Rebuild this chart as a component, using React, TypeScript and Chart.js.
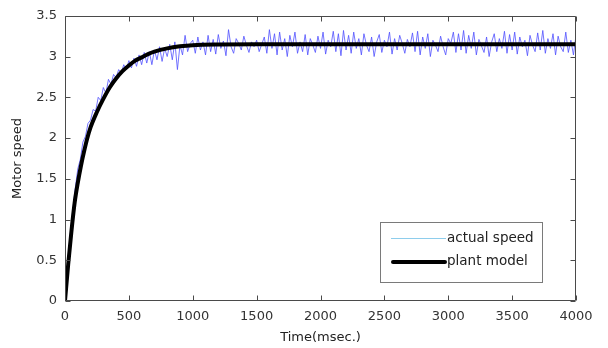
import React, { useEffect, useRef } from 'react';
import { Chart, registerables } from 'chart.js';

Chart.register(...registerables);

// sampling period of the measured signal (ms)
const SAMPLE_MS = 20;

// measured motor speed, one value every SAMPLE_MS from t = 0 to 4000 ms
const actualSpeed: number[] = [
  0.00, 0.45, 0.80, 1.10, 1.38, 1.62, 1.74, 1.95, 2.02, 2.18,
  2.22, 2.35, 2.33, 2.50, 2.46, 2.62, 2.55, 2.72, 2.66, 2.78,
  2.74, 2.84, 2.80, 2.90, 2.84, 2.95, 2.86, 2.98, 2.88, 3.02,
  2.90, 3.05, 2.92, 3.06, 2.90, 3.08, 2.96, 3.12, 2.94, 3.10,
  3.00, 3.15, 2.96, 3.18, 2.84, 3.14, 3.02, 3.26, 3.06, 3.16,
  3.20, 3.04, 3.24, 3.08, 3.18, 3.02, 3.26, 3.06, 3.21, 3.03,
  3.27, 3.10, 3.19, 3.01, 3.33, 3.12, 3.04, 3.22, 3.16, 3.08,
  3.25, 3.14, 3.05, 3.18, 3.12, 3.20, 3.06, 3.15, 3.24, 3.04,
  3.33, 3.10, 3.28, 3.02, 3.30, 3.08, 3.22, 3.00, 3.26, 3.12,
  3.30, 3.04, 3.18, 3.06, 3.27, 3.02, 3.22, 3.14, 3.05, 3.25,
  3.10, 3.30, 3.03, 3.20, 3.12, 3.31, 3.06, 3.28, 3.01, 3.32,
  3.08, 3.26, 3.04, 3.30, 3.10, 3.22, 3.02, 3.28, 3.14, 3.06,
  3.24, 3.00, 3.18, 3.27, 3.05, 3.20, 3.12, 3.30, 3.03, 3.22,
  3.08, 3.26, 3.16, 3.04, 3.21, 3.12, 3.29, 3.06, 3.31, 3.02,
  3.24, 3.10, 3.28, 3.00, 3.20, 3.14, 3.06, 3.25, 3.12, 3.02,
  3.22, 3.16, 3.30, 3.05, 3.28, 3.08, 3.32, 3.04, 3.26, 3.10,
  3.30, 3.02, 3.21, 3.13, 3.05, 3.24, 3.00, 3.18, 3.28, 3.06,
  3.22, 3.10, 3.31, 3.04, 3.27, 3.08, 3.30, 3.03, 3.24, 3.12,
  3.20, 3.01, 3.26, 3.14, 3.06, 3.29, 3.08, 3.32, 3.04, 3.22,
  3.10, 3.28, 3.02, 3.25, 3.12, 3.06, 3.30, 3.05, 3.20, 3.02,
  3.26,
];

// plant model response
const plantTime: number[] = [
  0, 25, 50, 75, 100, 125, 150, 175, 200, 250, 300, 350, 400, 450, 500,
  550, 600, 650, 700, 800, 900, 1000, 1200, 1500, 2000, 2500, 3000, 3500, 4000,
];
const plantValue: number[] = [
  0, 0.45, 0.85, 1.2, 1.45, 1.66, 1.84, 2.0, 2.13, 2.32, 2.48, 2.62, 2.73, 2.82, 2.89,
  2.95, 2.99, 3.03, 3.06, 3.1, 3.125, 3.14, 3.148, 3.15, 3.15, 3.15, 3.15, 3.15, 3.15,
];

const xTicks = { min: 0, max: 4000, step: 500 };
const yTicks = { min: 0, max: 3.5, step: 0.5 };

const legendLabels = ['actual speed', 'plant model'];
const xTitle = 'Time(msec.)';
const yTitle = 'Motor speed';

const FONT = '"DejaVu Sans", sans-serif';

const framePlugin = {
  id: 'frame',
  afterDatasetsDraw(chart: any) {
    const { ctx, chartArea, scales } = chart;
    const { left, right, top, bottom } = chartArea;
    const x = scales.x;
    const y = scales.y;
    ctx.save();
    ctx.strokeStyle = '#4a4a4a';
    ctx.lineWidth = 1;
    ctx.beginPath();
    const L = Math.round(left) + 0.5;
    const R = Math.round(right) - 0.5;
    const T = Math.round(top) + 0.5;
    const B = Math.round(bottom) - 0.5;
    ctx.moveTo(L, T);
    ctx.lineTo(R, T);
    ctx.lineTo(R, B);
    ctx.lineTo(L, B);
    ctx.closePath();
    const tl = 5;
    x.ticks.forEach((t: any) => {
      const px = Math.round(x.getPixelForValue(t.value)) + 0.5;
      ctx.moveTo(px, B);
      ctx.lineTo(px, B - tl);
      ctx.moveTo(px, T);
      ctx.lineTo(px, T + tl);
    });
    y.ticks.forEach((t: any) => {
      const py = Math.round(y.getPixelForValue(t.value)) + 0.5;
      ctx.moveTo(L, py);
      ctx.lineTo(L + tl, py);
      ctx.moveTo(R, py);
      ctx.lineTo(R - tl, py);
    });
    ctx.stroke();
    ctx.restore();
  },
};

const legendPlugin = {
  id: 'boxLegend',
  afterDraw(chart: any) {
    const { ctx } = chart;
    ctx.save();
    ctx.fillStyle = '#ffffff';
    ctx.fillRect(380, 222, 162, 60);
    ctx.strokeStyle = '#7a7a7a';
    ctx.lineWidth = 1;
    ctx.strokeRect(380.5, 222.5, 162, 60);

    ctx.strokeStyle = '#8ecdec';
    ctx.lineWidth = 1;
    ctx.beginPath();
    ctx.moveTo(391, 238.5);
    ctx.lineTo(446, 238.5);
    ctx.stroke();

    ctx.strokeStyle = '#000000';
    ctx.lineWidth = 4;
    ctx.lineCap = 'round';
    ctx.beginPath();
    ctx.moveTo(393, 262);
    ctx.lineTo(445, 262);
    ctx.stroke();

    ctx.fillStyle = '#222222';
    ctx.font = `13.5px ${FONT}`;
    ctx.textBaseline = 'middle';
    ctx.textAlign = 'left';
    ctx.fillText(legendLabels[0], 447, 238);
    ctx.fillText(legendLabels[1], 447, 261);
    ctx.restore();
  },
};

export default function App() {
  const ref = useRef<HTMLCanvasElement | null>(null);

  useEffect(() => {
    if (!ref.current) return;
    const actualPoints = actualSpeed.map((v, i) => ({ x: i * SAMPLE_MS, y: v }));
    const plantPoints = plantTime.map((t, i) => ({ x: t, y: plantValue[i] }));

    const chart = new Chart(ref.current, {
      type: 'line',
      data: {
        datasets: [
          {
            label: legendLabels[1],
            data: plantPoints,
            borderColor: '#000000',
            borderWidth: 4,
            pointRadius: 0,
            cubicInterpolationMode: 'monotone',
            fill: false,
          },
          {
            label: legendLabels[0],
            data: actualPoints,
            borderColor: 'rgba(80,80,255,0.8)',
            borderWidth: 1,
            pointRadius: 0,
            tension: 0,
            fill: false,
          },
        ],
      },
      options: {
        animation: false,
        responsive: false,
        maintainAspectRatio: false,
        layout: { padding: { left: 0, right: 32, top: 13, bottom: 0 } },
        plugins: {
          legend: { display: false },
          tooltip: { enabled: false },
        },
        scales: {
          x: {
            type: 'linear',
            min: xTicks.min,
            max: xTicks.max,
            ticks: {
              stepSize: xTicks.step,
              color: '#333333',
              font: { family: FONT, size: 13 },
              padding: 8,
              maxRotation: 0,
              autoSkip: false,
              callback: (v: any) => String(v),
            },
            grid: { display: false, drawTicks: false },
            border: { display: false },
            title: {
              display: true,
              text: xTitle,
              color: '#222222',
              font: { family: FONT, size: 13 },
              padding: { top: 0, bottom: 3 },
            },
            afterFit(scale: any) {
              scale.height = 47;
            },
          },
          y: {
            type: 'linear',
            min: yTicks.min,
            max: yTicks.max,
            ticks: {
              stepSize: yTicks.step,
              color: '#333333',
              font: { family: FONT, size: 13 },
              padding: 8,
              callback: (v: any) => String(Math.round(Number(v) * 10) / 10),
            },
            grid: { display: false, drawTicks: false },
            border: { display: false },
            title: {
              display: true,
              text: yTitle,
              color: '#222222',
              font: { family: FONT, size: 13 },
              padding: { top: 10, bottom: 0 },
            },
            afterFit(scale: any) {
              scale.width = 65;
            },
          },
        },
      },
      plugins: [framePlugin, legendPlugin],
    });
    return () => chart.destroy();
  }, []);

  return (
    <div style={{ position: 'fixed', left: 0, top: 0, width: 608, height: 348, background: '#ffffff' }}>
      <canvas ref={ref} width={608} height={348} style={{ display: 'block' }} />
    </div>
  );
}
